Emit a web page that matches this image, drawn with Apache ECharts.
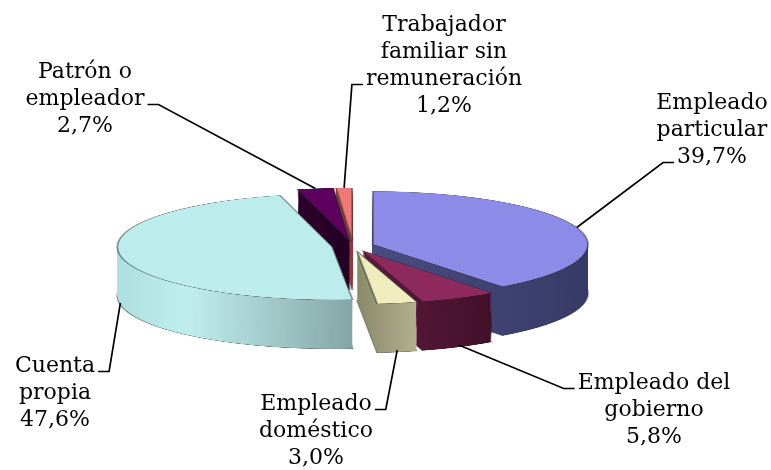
<!DOCTYPE html>
<html><head><meta charset="utf-8">
<script src="https://cdn.jsdelivr.net/npm/echarts@6/dist/echarts.min.js"></script>
<style>
html,body{margin:0;padding:0;background:#fff;}
#wrap{position:relative;width:771px;height:470px;overflow:hidden;background:#fff;}
#pie{position:absolute;left:0;top:0;width:771px;transform-origin:0 0;}
#labels{position:absolute;left:0;top:0;width:771px;height:470px;}
</style></head><body>
<div id="wrap"><div id="pie"></div><div id="labels"></div></div>
<script>
// ---- data ----
const categories = ['Empleado\nparticular', 'Empleado del\ngobierno', 'Empleado\ndoméstico', 'Cuenta\npropia', 'Patrón o\nempleador', 'Trabajador\nfamiliar sin\nremuneración'];
const shares = [39.7, 5.8, 3.0, 47.6, 2.7, 1.2];

// ---- styles ----
const topColors = ['#8c8ce8', '#8e2a5e', '#efecbd', '#bcecec', '#5e005e', '#ee7876'];
const sideStops = [
  [[0, '#4a4c82'], [1, '#383a66']],
  [[0, '#5e1c3e'], [1, '#43102a']],
  [[0, '#8a896a'], [1, '#b2b08f']],
  [[0, '#ade0e0'], [0.3, '#c0eeee'], [1, '#85a5a5']],
  [[0, '#2c002c'], [1, '#240024']],
  [[0, '#a04c4c'], [1, '#8a3c3c']]
];
const labelBoxes = [[712, 90], [654, 370], [316, 391], [55, 353], [85, 59], [444, 12]]; // centre x, top y
const linkRow = [2, 0, 0, 0, 1, 2];
const FONT = 'DejaVu Serif', FS = 22, LH = 27;

const CX = 353, CY = 246, RX = 215, RY = 53, DEPTH = 49, OFFSET = 21, LAYERS = 48;
const S = RY / RX;

const pieDiv = document.getElementById('pie');
pieDiv.style.height = (470 / S) + 'px';
pieDiv.style.transform = 'scaleY(' + S + ')';

function grad(stops) {
  return { type: 'linear', x: 0, y: 0, x2: 1, y2: 0,
    colorStops: stops.map(s => ({ offset: s[0], color: s[1] })) };
}
function pieSeries(cyScreen, colorFn, bw) {
  return {
    type: 'pie', center: [CX, cyScreen / S], radius: RX, startAngle: 90, clockwise: true,
    selectedMode: 'multiple', selectedOffset: OFFSET, animation: false,
    label: { show: false }, labelLine: { show: false },
    emphasis: { disabled: true },
    itemStyle: { borderColor: 'rgba(40,40,40,0.45)', borderWidth: bw },
    select: { itemStyle: { borderColor: 'rgba(40,40,40,0.45)', borderWidth: bw } },
    data: categories.map((c, i) => ({ name: c, value: shares[i], selected: true,
      itemStyle: { color: colorFn(i) } }))
  };
}
const seriesA = [];
for (let k = LAYERS; k >= 1; k--) {
  seriesA.push(pieSeries(CY + DEPTH * k / LAYERS, i => grad(sideStops[i]), k === LAYERS ? 2 : 0));
}
seriesA.push(pieSeries(CY, i => topColors[i], 2));

const chartA = echarts.init(pieDiv, null, { renderer: 'canvas' });
chartA.setOption({ animation: false, series: seriesA });

function fmt(v) { return v.toFixed(1).replace('.', ',') + '%'; }
const mctx = document.createElement('canvas').getContext('2d');
mctx.font = FS + 'px "' + FONT + '"';
function measure(t) { return mctx.measureText(t).width; }

function anchorOf(i) {
  let cx = CX, cy = CY / S, r = RX, mid;
  try {
    const lay = chartA.getModel().getSeriesByIndex(LAYERS).getData().getItemLayout(i);
    mid = (lay.startAngle + lay.endAngle) / 2; cx = lay.cx; cy = lay.cy; r = lay.r;
  } catch (e) {
    const tot = shares.reduce((a, b) => a + b, 0);
    let acc = 0; for (let j = 0; j < i; j++) acc += shares[j];
    mid = -Math.PI / 2 + (acc + shares[i] / 2) / tot * Math.PI * 2;
  }
  const px = cx + (OFFSET + r) * Math.cos(mid);
  let py = (cy + (OFFSET + r) * Math.sin(mid)) * S;
  if (Math.sin(mid) > -0.2) py += DEPTH - 2;
  return [px, py];
}

const chartB = echarts.init(document.getElementById('labels'));
chartB.setOption({
  animation: false,
  series: [{
    type: 'pie', center: [CX, CY], radius: [0, 10], startAngle: 90, clockwise: true,
    avoidLabelOverlap: false, animation: false,
    emphasis: { disabled: true },
    itemStyle: { color: 'rgba(0,0,0,0)' },
    data: categories.map((c, i) => ({ name: c, value: shares[i] })),
    label: { show: true, position: 'outside', color: '#000', fontFamily: FONT, fontSize: FS, lineHeight: LH,
      formatter: p => p.name + '\n' + fmt(p.value) },
    labelLine: { show: true, length: 5, length2: 5, lineStyle: { color: '#000', width: 1.7 } },
    labelLayout: function (params) {
      const i = params.dataIndex;
      const a = anchorOf(i);
      const lx = labelBoxes[i][0], ly = labelBoxes[i][1];
      const rows = (categories[i] + '\n' + fmt(shares[i])).split('\n');
      const w = measure(rows[linkRow[i]]);
      const yl = ly + LH * (linkRow[i] + 0.5) + 5;
      const toRight = a[0] < lx;
      const end = toRight ? [lx - w / 2 - 3, yl] : [lx + w / 2 + 3, yl];
      const elbow = [end[0] + (toRight ? -11 : 11), yl];
      return { x: lx, y: ly, align: 'center', verticalAlign: 'top', labelLinePoints: [a, elbow, end] };
    }
  }]
});
</script>
</body></html>
